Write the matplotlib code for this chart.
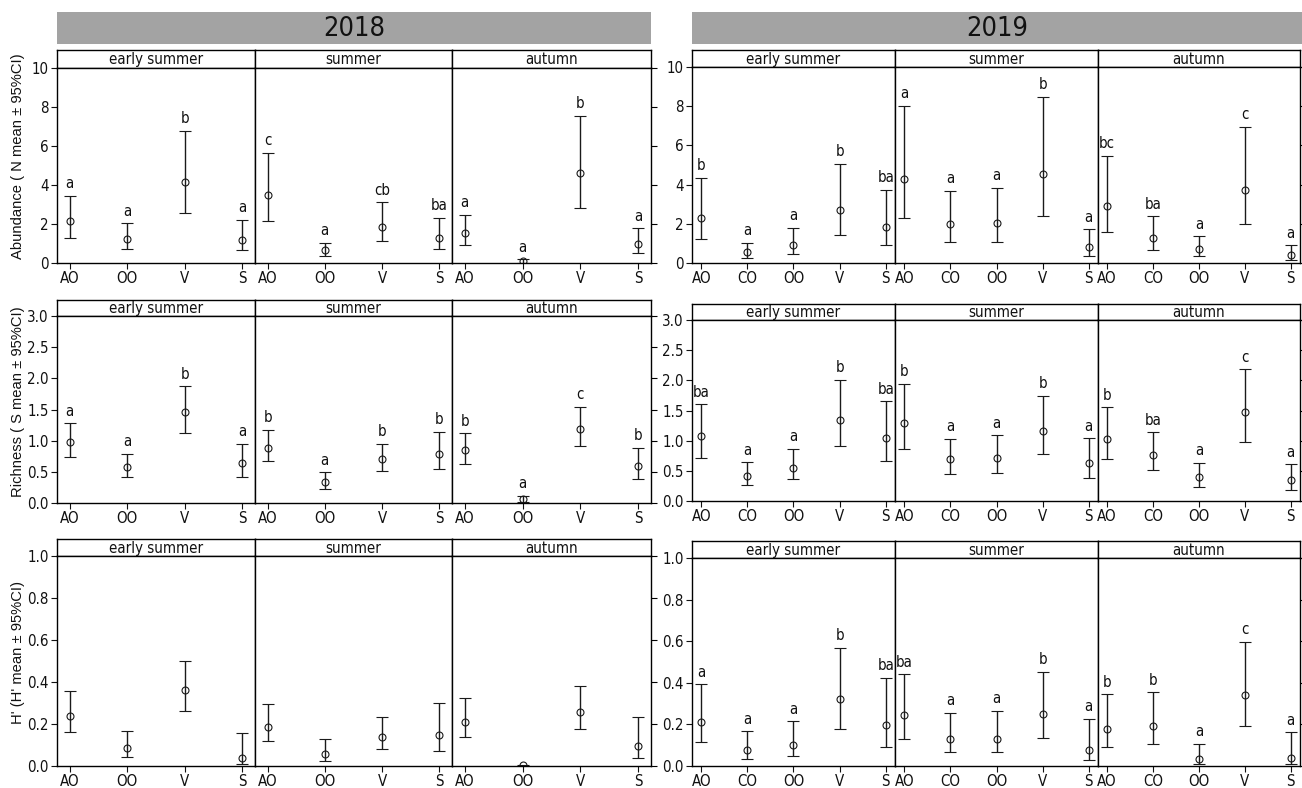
import matplotlib
matplotlib.use("Agg")
import matplotlib.pyplot as plt
from matplotlib import font_manager as fm

# ---------------- data ----------------
seasons = ["early summer", "summer", "autumn"]
cats_2018 = ["AO", "OO", "V", "S"]
cats_2019 = ["AO", "CO", "OO", "V", "S"]

# 2018 abundance
ab18_mean = [[2.13, 1.23, 4.17, 1.19], [3.49, 0.65, 1.87, 1.26], [1.52, 0.085, 4.63, 0.97]]
ab18_lo   = [[1.29, 0.73, 2.56, 0.66], [2.15, 0.36, 1.14, 0.70], [0.92, 0.0, 2.84, 0.51]]
ab18_hi   = [[3.44, 2.03, 6.78, 2.20], [5.66, 1.02, 3.12, 2.33], [2.47, 0.19, 7.55, 1.77]]
ab18_let  = [["a", "a", "b", "a"], ["c", "a", "cb", "ba"], ["a", "a", "b", "a"]]

# 2019 abundance
ab19_mean = [[2.32, 0.56, 0.93, 2.71, 1.85], [4.31, 1.98, 2.03, 4.54, 0.81], [2.93, 1.29, 0.71, 3.71, 0.39]]
ab19_lo   = [[1.24, 0.27, 0.47, 1.44, 0.90], [2.32, 1.05, 1.07, 2.42, 0.37], [1.56, 0.68, 0.36, 1.98, 0.17]]
ab19_hi   = [[4.36, 1.02, 1.78, 5.07, 3.73], [8.02, 3.69, 3.85, 8.49, 1.71], [5.47, 2.39, 1.36, 6.95, 0.90]]
ab19_let  = [["b", "a", "a", "b", "ba"], ["a", "a", "a", "b", "a"], ["bc", "ba", "a", "c", "a"]]

# 2018 richness
ri18_mean = [[0.975, 0.57, 1.46, 0.64], [0.88, 0.33, 0.70, 0.78], [0.85, 0.06, 1.19, 0.59]]
ri18_lo   = [[0.74, 0.41, 1.13, 0.42], [0.67, 0.23, 0.52, 0.54], [0.63, 0.015, 0.91, 0.39]]
ri18_hi   = [[1.28, 0.79, 1.87, 0.95], [1.17, 0.49, 0.95, 1.14], [1.12, 0.12, 1.54, 0.89]]
ri18_let  = [["a", "a", "b", "a"], ["b", "a", "b", "b"], ["b", "a", "c", "b"]]

# 2019 richness
ri19_mean = [[1.07, 0.41, 0.55, 1.35, 1.04], [1.30, 0.69, 0.71, 1.16, 0.63], [1.03, 0.76, 0.40, 1.47, 0.34]]
ri19_lo   = [[0.71, 0.26, 0.36, 0.91, 0.66], [0.87, 0.45, 0.47, 0.78, 0.38], [0.69, 0.51, 0.24, 0.98, 0.19]]
ri19_hi   = [[1.60, 0.64, 0.86, 2.01, 1.65], [1.94, 1.03, 1.09, 1.74, 1.04], [1.55, 1.14, 0.63, 2.18, 0.61]]
ri19_let  = [["ba", "a", "a", "b", "ba"], ["b", "a", "a", "b", "a"], ["b", "ba", "a", "c", "a"]]

# 2018 H'
hd18_mean = [[0.238, 0.084, 0.36, 0.038], [0.186, 0.057, 0.138, 0.146], [0.211, 0.003, 0.258, 0.094]]
hd18_lo   = [[0.162, 0.043, 0.26, 0.008], [0.121, 0.025, 0.081, 0.072], [0.138, 0.0, 0.175, 0.038]]
hd18_hi   = [[0.355, 0.165, 0.50, 0.157], [0.294, 0.127, 0.234, 0.302], [0.323, 0.006, 0.38, 0.231]]
hd18_let  = [["", "", "", ""], ["", "", "", ""], ["", "", "", ""]]

# 2019 H'
hd19_mean = [[0.21, 0.077, 0.101, 0.32, 0.198], [0.243, 0.13, 0.13, 0.249, 0.077], [0.178, 0.191, 0.035, 0.339, 0.039]]
hd19_lo   = [[0.114, 0.035, 0.047, 0.18, 0.092], [0.132, 0.066, 0.066, 0.137, 0.027], [0.093, 0.104, 0.011, 0.191, 0.008]]
hd19_hi   = [[0.392, 0.167, 0.215, 0.569, 0.423], [0.44, 0.257, 0.264, 0.452, 0.228], [0.344, 0.354, 0.108, 0.598, 0.162]]
hd19_let  = [["a", "a", "a", "b", "ba"], ["ba", "a", "a", "b", "a"], ["b", "b", "a", "c", "a"]]

ylabels = ["Abundance ( N mean \u00b1 95%CI)", "Richness ( S mean \u00b1 95%CI)", "H' (H' mean \u00b1 95%CI)"]
yticks = [[0, 2, 4, 6, 8, 10], [0.0, 0.5, 1.0, 1.5, 2.0, 2.5, 3.0], [0.0, 0.2, 0.4, 0.6, 0.8, 1.0]]
ytlabels = [["0", "2", "4", "6", "8", "10"],
            ["0.0", "0.5", "1.0", "1.5", "2.0", "2.5", "3.0"],
            ["0.0", "0.2", "0.4", "0.6", "0.8", "1.0"]]
ylims = [(0, 10), (0, 3), (0, 1)]

# ---------------- layout ----------------
W, H = 1302, 788
fig = plt.figure(figsize=(W / 100, H / 100), dpi=100)

def cfont(size):
    return fm.FontProperties(family="DejaVu Sans", stretch="condensed", size=size)

def add_ax(x0, x1, y0, y1):
    return fig.add_axes([x0 / W, 1 - y1 / H, (x1 - x0) / W, (y1 - y0) / H])

blocks = [
    dict(year="2018", cats=cats_2018, xs=[57, 255, 452, 651],
         rows=[(50, 68, 263), (300, 316, 503), (539, 556, 766)], banner=(57, 651),
         data=[(ab18_mean, ab18_lo, ab18_hi, ab18_let),
               (ri18_mean, ri18_lo, ri18_hi, ri18_let),
               (hd18_mean, hd18_lo, hd18_hi, hd18_let)]),
    dict(year="2019", cats=cats_2019, xs=[692, 895, 1098, 1300],
         rows=[(50, 67, 263), (304, 320, 501), (541, 558, 766)], banner=(692, 1302),
         data=[(ab19_mean, ab19_lo, ab19_hi, ab19_let),
               (ri19_mean, ri19_lo, ri19_hi, ri19_let),
               (hd19_mean, hd19_lo, hd19_hi, hd19_let)]),
]

LC = "#1a1a1a"

for b in blocks:
    # year banner
    bx = add_ax(b["banner"][0], b["banner"][1], 12, 44)
    bx.set_facecolor("#a3a3a3")
    for sp in bx.spines.values():
        sp.set_visible(False)
    bx.set_xticks([]); bx.set_yticks([])
    bx.text(0.5, 0.47, b["year"], ha="center", va="center",
            fontproperties=cfont(19.5), color="#111111", transform=bx.transAxes)

    n = len(b["cats"])
    xpos = list(range(1, n + 1))
    pad = 0.22 if n == 4 else 0.2
    for r, (stop, ptop, pbot) in enumerate(b["rows"]):
        mean_l, lo_l, hi_l, let_l = b["data"][r]
        for s in range(3):
            x0, x1 = b["xs"][s], b["xs"][s + 1]
            # strip
            st = add_ax(x0, x1, stop, ptop)
            st.set_xticks([]); st.set_yticks([])
            for sp in st.spines.values():
                sp.set_color("black"); sp.set_linewidth(1.0)
            st.text(0.5, 0.45, seasons[s], ha="center", va="center",
                    fontproperties=cfont(10.8), transform=st.transAxes, color="#111111")
            # panel
            ax = add_ax(x0, x1, ptop, pbot)
            for sp in ax.spines.values():
                sp.set_color("black"); sp.set_linewidth(1.0)
            m = mean_l[s]; lo = lo_l[s]; hi = hi_l[s]
            yerr = [[mi - li for mi, li in zip(m, lo)], [hi_ - mi for mi, hi_ in zip(m, hi)]]
            ax.errorbar(xpos, m, yerr=yerr, fmt="o", ms=5, mfc="none", mec=LC, mew=0.8,
                        ecolor=LC, elinewidth=1.0, capsize=4.5, capthick=1.0)
            ax.set_xlim(1 - pad, n + pad)
            ax.set_ylim(*ylims[r])
            for xi, hv, lt in zip(xpos, hi, let_l[s]):
                if lt:
                    ax.annotate(lt, (xi, hv), xytext=(0, 5.5), textcoords="offset points",
                                ha="center", va="baseline", fontproperties=cfont(10.8),
                                color="#111111", annotation_clip=False)
            ax.set_xticks(xpos)
            ax.set_xticklabels(b["cats"], fontproperties=cfont(10.8))
            ax.tick_params(axis="x", direction="out", length=4, width=0.8, pad=2, colors="#111111")
            ax.set_yticks(yticks[r])
            if s == 0:
                ax.set_yticklabels(ytlabels[r], fontproperties=cfont(10.8))
                ax.tick_params(axis="y", direction="out", length=4, width=0.8, pad=2,
                               left=True, right=False, colors="#111111")
            elif s == 2:
                ax.yaxis.tick_right()
                ax.set_yticklabels([])
                ax.tick_params(axis="y", direction="out", length=4, width=0.8,
                               left=False, right=True, labelright=False)
            else:
                ax.tick_params(axis="y", left=False, right=False, labelleft=False)
            ax.set_facecolor("white")

# y-axis labels
for r, lab in enumerate(ylabels):
    stop, ptop, pbot = blocks[0]["rows"][r]
    fig.text(18 / W, 1 - ((stop + pbot) / 2) / H, lab, rotation=90, ha="center", va="center",
             family=["Liberation Sans", "DejaVu Sans"], fontsize=10.6, color="#111111")

fig.savefig("out.png", dpi=100)
